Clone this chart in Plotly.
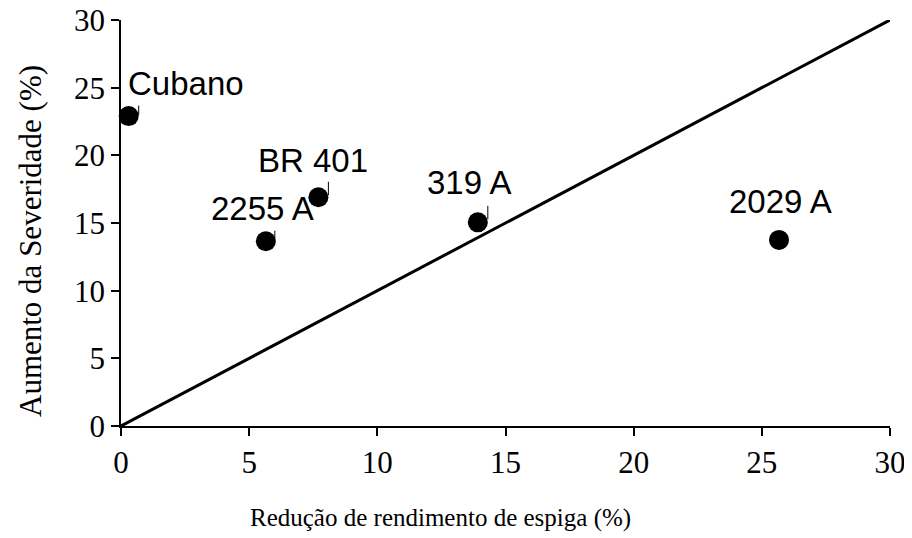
import plotly.graph_objects as go

# Data
cultivares = ["Cubano", "2255 A", "BR 401", "319 A", "2029 A"]
reducao = [0.3, 5.65, 7.7, 13.92, 25.67]
aumento = [22.9, 13.65, 16.9, 15.05, 13.75]
diag_x = [0, 30]
diag_y = [0, 30]
tick_vals = [0, 5, 10, 15, 20, 25, 30]
x_title = "Redução de rendimento de espiga (%)"
y_title = "Aumento da Severidade (%)"

# Label placement (pixels relative to marker centre)
label_dx = [57, -3, -5, -9, 1]
label_dy = [12, 12, 16, 19, 18]
leader = [True, True, True, True, False]
leader_dx = [10, 9, 10, 10, 0]
leader_y0 = [1, 1, 2, 3, 0]
leader_len = [11, 11, 15, 15, 0]

serif = "Liberation Serif, Times New Roman, serif"
sans = "Liberation Sans, Arial, sans-serif"

fig = go.Figure()
fig.add_trace(go.Scatter(x=diag_x, y=diag_y, mode="lines",
                         line=dict(color="black", width=3), showlegend=False,
                         hoverinfo="skip", cliponaxis=False))
fig.add_trace(go.Scatter(x=reducao, y=aumento, mode="markers",
                         marker=dict(color="black", size=20, line=dict(width=0)),
                         showlegend=False, cliponaxis=False))

for i, name in enumerate(cultivares):
    fig.add_annotation(x=reducao[i], y=aumento[i], text=name, showarrow=False,
                       xanchor="center", yanchor="bottom",
                       xshift=label_dx[i], yshift=label_dy[i],
                       font=dict(family=sans, size=33, color="black"))
    if leader[i]:
        fig.add_annotation(x=reducao[i], y=aumento[i], text="", showarrow=True,
                           arrowhead=0, arrowwidth=1, arrowcolor="black",
                           ax=0, ay=-leader_len[i], standoff=0,
                           xshift=leader_dx[i], yshift=leader_y0[i])

fig.add_annotation(xref="paper", yref="paper", x=0.415, y=0, yshift=-76,
                   text=x_title, showarrow=False, xanchor="center", yanchor="top",
                   font=dict(family=serif, size=25, color="black"))
fig.add_annotation(xref="paper", yref="paper", x=0, y=0.5, xshift=-91, yshift=-18,
                   text=y_title, showarrow=False, textangle=-90,
                   xanchor="center", yanchor="middle",
                   font=dict(family=serif, size=31, color="black"))

axis_common = dict(range=[0, 30], tickvals=tick_vals, showgrid=False, zeroline=False,
                   showline=True, linecolor="black", linewidth=1.5,
                   ticks="outside", ticklen=8, tickwidth=1.5, tickcolor="black",
                   tickfont=dict(family=serif, size=31, color="black"),
                   ticklabeloverflow="allow",
                   fixedrange=True, automargin=False)

fig.update_xaxes(**axis_common)
fig.update_yaxes(**axis_common)

# page body has an 8px margin, so the figure is sized to fit the 912x538 window
fig.update_layout(template="none", width=904, height=530,
                  plot_bgcolor="white", paper_bgcolor="white",
                  margin=dict(l=113, r=22, t=12, b=112), showlegend=False)

fig.write_html("out.html")
